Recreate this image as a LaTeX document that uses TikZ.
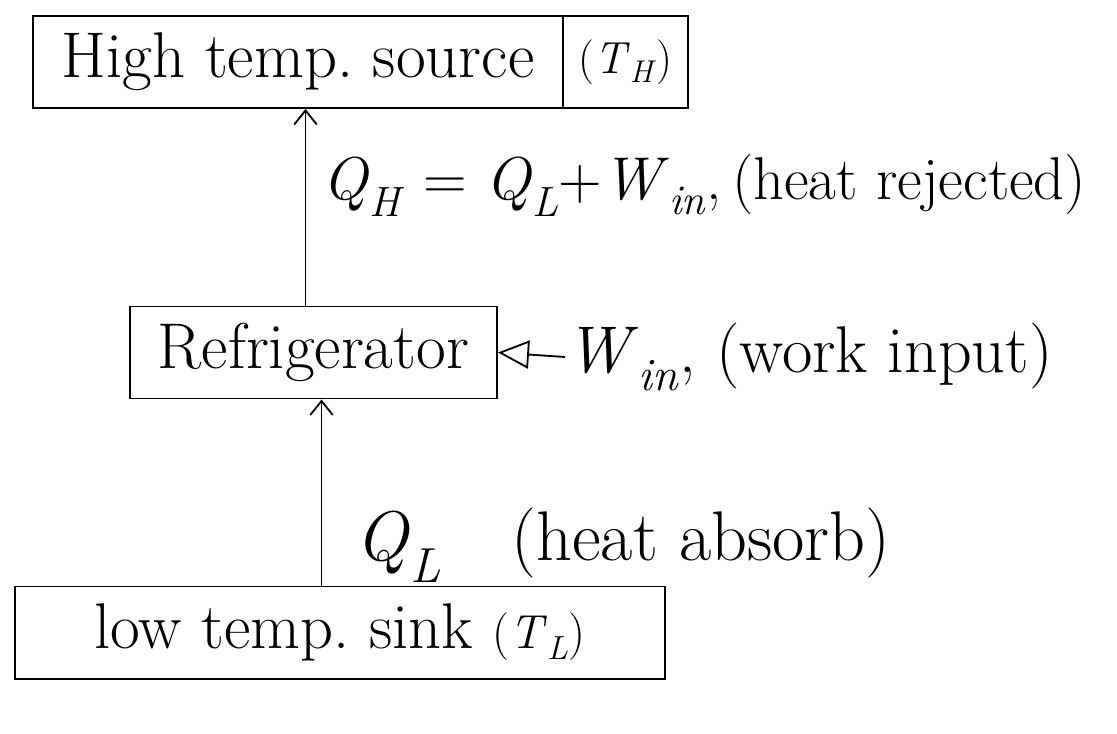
\documentclass[tikz,border=0pt]{standalone}
\usepackage{tikz}
\usepackage{amsmath}
\usetikzlibrary{arrows.meta, positioning}
\newcommand{\qty}[2]{\textit{#1}\textsubscript{\textit{#2}}}

\begin{document}
\begin{tikzpicture}[x=0.025cm, y=-0.025cm, >={Straight Barb[length=10pt, width=16pt]}, line width=1.3pt,
  font=\fontsize{46}{54}\selectfont,
  box/.style={draw, line width=1.4pt, inner sep=0pt, minimum height=2.3cm},
  lbl/.style={anchor=west, inner sep=0pt}]
  \useasboundingbox (0,0) rectangle (1117,734);
  % Behaelter
  \node[box, minimum width=13.25cm] (hsrc) at (298,62) {High temp.\ source};
  \node[box, minimum width=3.125cm, font=\fontsize{32}{38}\selectfont] (th) at (625.5,62) {(\qty{T}{H})};
  \node[box, minimum width=9.175cm] (fridge) at (313.5,352.5) {Refrigerator};
  \node[box, minimum width=16.25cm] (sink) at (340,632.5) {low temp.\ sink {\fontsize{34}{40}\selectfont(\qty{T}{L})}};
  % Waerme
  \draw[->] ([xshift=-0.2cm]fridge.north) -- ([xshift=-0.2cm]fridge.north |- hsrc.south);
  \draw[->] ([xshift=0.2cm]fridge.south |- sink.north) -- ([xshift=0.2cm]fridge.south);
  \node[lbl, font=\fontsize{43}{50}\selectfont] (qh) at (322,185) {\qty{Q}{H} = \qty{Q}{L}+\qty{W}{in},\,(heat rejected)};
  \node[lbl, font=\fontsize{50}{58}\selectfont] (ql) at (355,545) {\qty{Q}{L}\quad (heat absorb)};
  % Arbeit
  \node[lbl, font=\fontsize{47}{54}\selectfont] (win) at (565,357) {\qty{W}{in}, (work input)};
  \draw[-{Triangle[open, length=22pt, width=20pt]}] (win.west) -- (fridge.east);
\end{tikzpicture}
\end{document}
